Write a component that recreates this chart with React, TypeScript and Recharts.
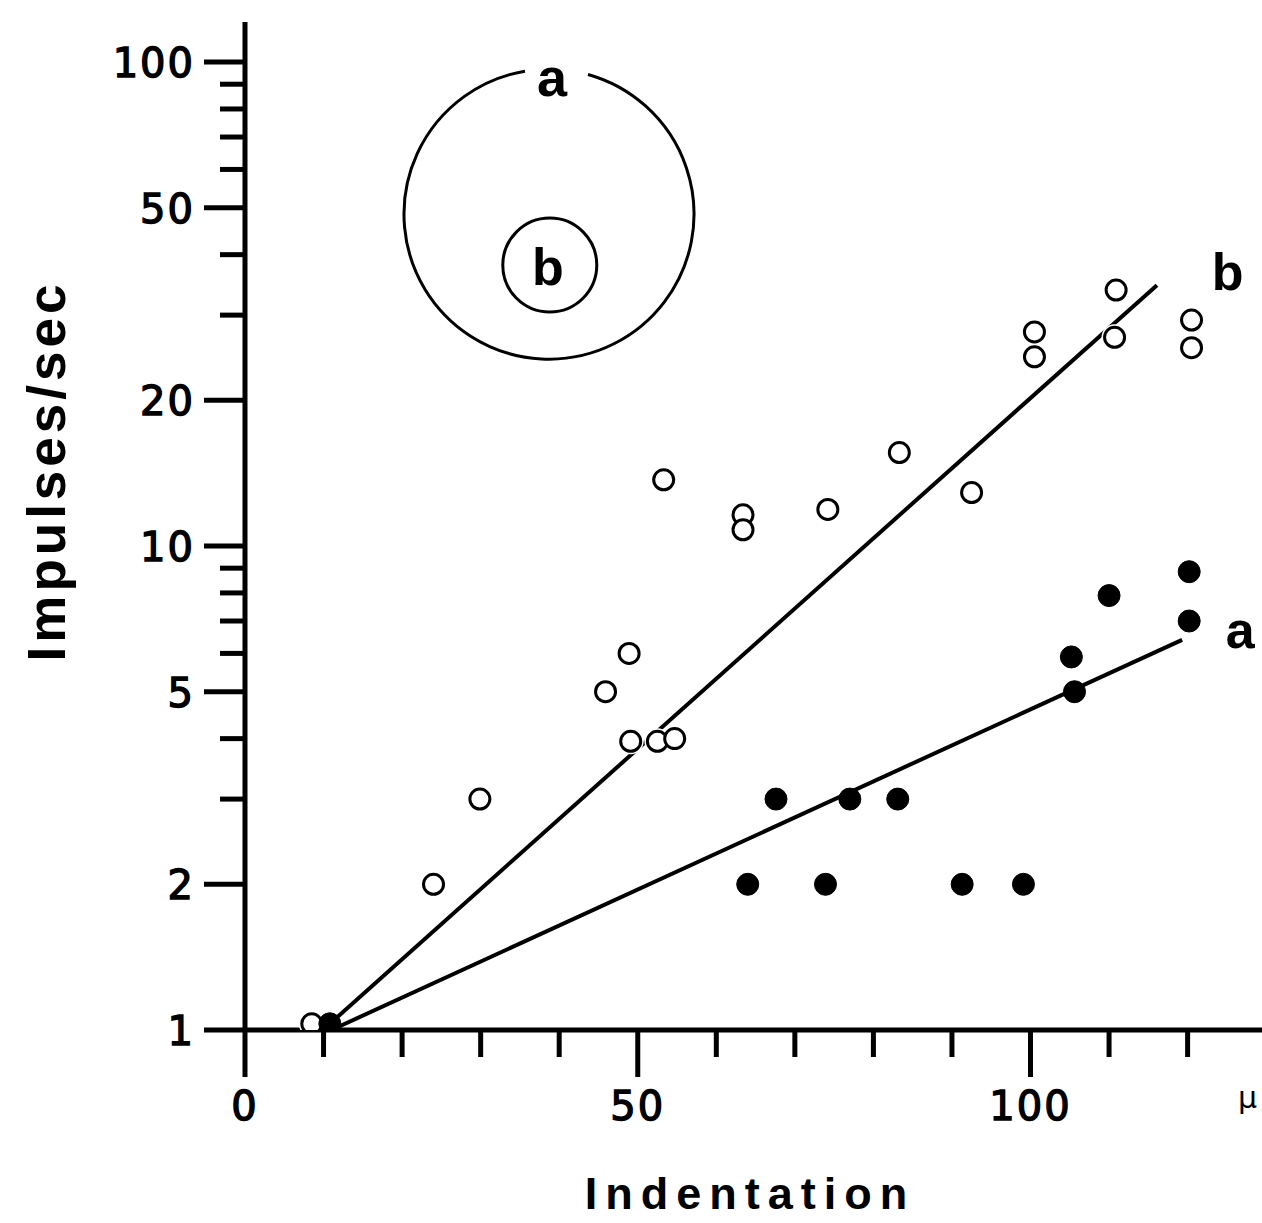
import React from 'react';
import { ScatterChart, Scatter, XAxis, YAxis, ReferenceDot, Customized } from 'recharts';

// Receptive field b (small) — open circles
const openX = [8.5, 24.0, 29.9, 45.9, 48.9, 49.1, 52.5, 54.7, 53.3, 63.4, 63.4, 74.2, 83.3, 92.5, 100.5, 100.5, 110.9, 110.7, 120.5, 120.5];
const openY = [1.03, 2.0, 3.0, 5.0, 6.0, 3.95, 3.95, 4.0, 13.7, 11.6, 10.8, 11.9, 15.6, 12.9, 27.7, 24.6, 33.8, 27.0, 29.3, 25.7];

// Receptive field a (large) — filled circles
const filledX = [10.8, 64.0, 67.6, 73.9, 77.0, 83.1, 91.3, 99.1, 105.2, 105.6, 110.0, 120.2, 120.2];
const filledY = [1.03, 2.0, 3.0, 2.0, 3.0, 3.0, 2.0, 2.0, 5.9, 5.0, 7.9, 8.85, 7.0];

// Fitted lines (end points)
const lineAX = [11.0, 119.3];
const lineAY = [1.0, 6.4];
const lineBX = [10.8, 116.1];
const lineBY = [1.03, 34.6];

// Axes
const xTicks = [0, 10, 20, 30, 40, 50, 60, 70, 80, 90, 100, 110, 120];
const xMajor = [0, 50, 100];
const yMajor = [1, 2, 5, 10, 20, 50, 100];
const yMinor = [3, 4, 6, 7, 8, 9, 30, 40, 60, 70, 80, 90];
const yTicks = [...yMajor, ...yMinor].sort((a, b) => a - b);

// Labels
const xTitle = 'Indentation';
const yTitle = 'Impulses/sec';
const unitLabel = 'μ';
const seriesLabels = ['a', 'b'];
const lineLabelPos = { a: { x: 126.7, y: 6.15 }, b: { x: 125.1, y: 33.8 } };
const insetBig = { x: 38.7, y: 48.5 };
const insetSmall = { x: 38.8, y: 38.07 };

const zip = (xs: number[], ys: number[]) => xs.map((x, i) => ({ x, y: ys[i] }));
const openData = zip(openX, openY);
const filledData = zip(filledX, filledY);
const lineAData = zip(lineAX, lineAY);
const lineBData = zip(lineBX, lineBY);

const TICK_FONT = '"DejaVu Sans", sans-serif';
const TITLE_FONT = '"Liberation Sans", Arial, sans-serif';

const XTick = (props: any) => {
  const { x, y, payload } = props;
  const major = xMajor.includes(payload.value);
  return (
    <g>
      <line x1={x} x2={x} y1={y} y2={y + (major ? 47 : 27)} stroke="#000" strokeWidth={5} />
      {major && (
        <text x={x} y={y + 90} textAnchor="middle" fontFamily={TICK_FONT} fontSize={40} fill="#000" stroke="#000" strokeWidth={1.4} letterSpacing={2}>
          {payload.value}
        </text>
      )}
    </g>
  );
};

const YTick = (props: any) => {
  const { x, y, payload } = props;
  const major = yMajor.includes(payload.value);
  return (
    <g>
      <line x1={x - (major ? 41 : 25)} x2={x} y1={y} y2={y} stroke="#000" strokeWidth={5} />
      {major && (
        <text x={x - 50} y={y + 15} textAnchor="end" fontFamily={TICK_FONT} fontSize={40} fill="#000" stroke="#000" strokeWidth={1.4} letterSpacing={2}>
          {payload.value}
        </text>
      )}
    </g>
  );
};

const openShape = (p: any) => (
  <circle cx={p.cx} cy={p.cy} r={10} fill="#fff" stroke="#000" strokeWidth={3} />
);
const haloShape = (p: any) => <circle cx={p.cx} cy={p.cy} r={13} fill="#fff" />;
const filledShape = (p: any) => <circle cx={p.cx} cy={p.cy} r={11} fill="#000" stroke="#000" strokeWidth={1} />;
const noShape = () => <g />;

const BigInset = (p: any) => {
  const { cx, cy } = p;
  const r = 145;
  const lx = cx - 24;
  const ly = cy - Math.sqrt(r * r - 24 * 24);
  const rx = cx + 39;
  const ry = cy - Math.sqrt(r * r - 39 * 39);
  return (
    <g>
      <path d={`M ${lx} ${ly} A ${r} ${r} 0 1 0 ${rx} ${ry}`} fill="none" stroke="#000" strokeWidth={3} />
      <text x={cx + 3} y={cy - 118} textAnchor="middle" fontFamily={TITLE_FONT} fontWeight="bold" fontSize={54} fill="#000">
        {seriesLabels[0]}
      </text>
    </g>
  );
};

const SmallInset = (p: any) => {
  const { cx, cy } = p;
  return (
    <g>
      <circle cx={cx} cy={cy} r={47} fill="none" stroke="#000" strokeWidth={3} />
      <text x={cx - 2} y={cy + 20} textAnchor="middle" fontFamily={TITLE_FONT} fontWeight="bold" fontSize={52} fill="#000">
        {seriesLabels[1]}
      </text>
    </g>
  );
};

const lineLabel = (txt: string) => (p: any) => (
  <text x={p.cx} y={p.cy} textAnchor="middle" fontFamily={TITLE_FONT} fontWeight="bold" fontSize={52} fill="#000">
    {txt}
  </text>
);

const Titles = () => (
  <g>
    <text
      x={0}
      y={0}
      transform="translate(65,471) rotate(-90)"
      textAnchor="middle"
      fontFamily={TITLE_FONT}
      fontWeight="bold"
      fontSize={53}
      letterSpacing={4}
      fill="#000"
    >
      {yTitle}
    </text>
    <text x={750} y={1209} textAnchor="middle" fontFamily={TITLE_FONT} fontWeight="bold" fontSize={45} letterSpacing={8} fill="#000">
      {xTitle}
    </text>
    <text x={1238} y={1108} fontFamily={TICK_FONT} fontSize={30} fill="#000">
      {unitLabel}
    </text>
  </g>
);

export default function App() {
  return (
    <div style={{ position: 'absolute', left: 0, top: 0, background: '#fff' }}>
      <ScatterChart width={1262} height={1223} margin={{ top: 22, right: 0, bottom: 192, left: 244 }}>
        <XAxis
          type="number"
          dataKey="x"
          domain={[0, 129.47]}
          ticks={xTicks}
          interval={0}
          height={1}
          tickSize={0}
          tickMargin={0}
          tickLine={false}
          tick={(p: any) => <XTick {...p} />}
          axisLine={{ stroke: '#000', strokeWidth: 5 }}
          allowDataOverflow
        />
        <YAxis
          type="number"
          dataKey="y"
          scale="log"
          domain={[1, 121]}
          ticks={yTicks}
          interval={0}
          width={1}
          tickSize={0}
          tickMargin={0}
          tickLine={false}
          tick={(p: any) => <YTick {...p} />}
          axisLine={{ stroke: '#000', strokeWidth: 5 }}
          allowDataOverflow
        />
        <Scatter data={lineAData} line={{ stroke: '#000', strokeWidth: 4 }} shape={noShape} isAnimationActive={false} />
        <Scatter data={lineBData} line={{ stroke: '#000', strokeWidth: 4 }} shape={noShape} isAnimationActive={false} />
        <Scatter data={openData} shape={haloShape} isAnimationActive={false} />
        <Scatter data={openData} shape={openShape} isAnimationActive={false} />
        <Scatter data={filledData} shape={filledShape} isAnimationActive={false} />
        <ReferenceDot x={insetBig.x} y={insetBig.y} r={1} shape={BigInset} />
        <ReferenceDot x={insetSmall.x} y={insetSmall.y} r={1} shape={SmallInset} />
        <ReferenceDot x={lineLabelPos.b.x} y={lineLabelPos.b.y} r={1} shape={lineLabel(seriesLabels[1])} />
        <ReferenceDot x={lineLabelPos.a.x} y={lineLabelPos.a.y} r={1} shape={lineLabel(seriesLabels[0])} />
        <Customized component={Titles} />
      </ScatterChart>
    </div>
  );
}
